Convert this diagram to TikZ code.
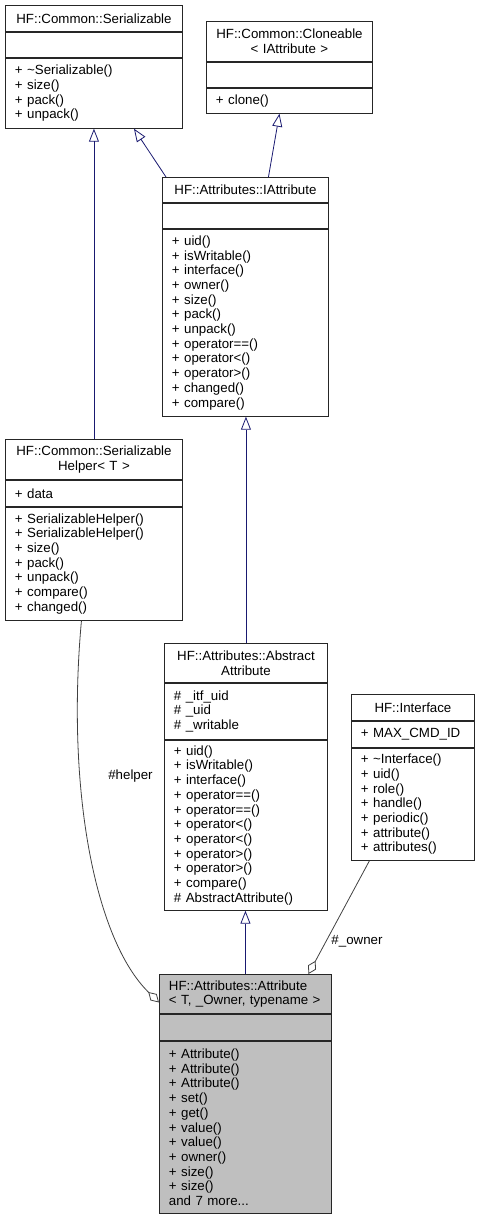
\documentclass[tikz,border=0pt]{standalone}
\usepackage{fontspec}
\setmainfont{Liberation Sans}
\usetikzlibrary{positioning,arrows.meta}

\definecolor{inhblue}{HTML}{191970}
\definecolor{aggrgray}{HTML}{404040}
\definecolor{focusgray}{HTML}{BFBFBF}

\tikzset{
  part/.style={draw=black!85, line width=0.9pt, fill=white, inner xsep=9.5pt, inner ysep=0pt,
    text width=#1, align=left, font=\fontsize{13.3}{14.7}\selectfont},
  head/.style={part=#1, align=center},
  inh/.style={draw=inhblue, line width=0.8pt, -{Triangle[open,length=13pt,width=10pt]}},
  aggr/.style={draw=aggrgray, line width=0.8pt, {Diamond[open,length=15pt,width=9pt]}-},
  lbl/.style={font=\fontsize{13.3}{14.7}\selectfont, inner sep=0pt},
}

\begin{document}
\begin{tikzpicture}[x=1pt,y=-1pt]

\useasboundingbox (0,0) rectangle (479,1217);

\node[head=158pt, minimum height=26pt, anchor=north west](serializable) at (5,5) {HF::Common::Serializable};
\node[part=158pt, minimum height=25pt, below=0pt of serializable](serializable attrs) {};
\node[part=158pt, minimum height=70pt, below=0pt of serializable attrs](serializable ops) {+ \textasciitilde Serializable()\\+ size()\\+ pack()\\+ unpack()};

\node[head=147pt, minimum height=40pt, anchor=north west](cloneable) at (206,21) {HF::Common::Cloneable\\< IAttribute >};
\node[part=147pt, minimum height=25pt, below=0pt of cloneable](cloneable attrs) {};
\node[part=147pt, minimum height=25pt, below=0pt of cloneable attrs](cloneable ops) {+ clone()};

\node[head=147pt, minimum height=25pt, anchor=north west](iattribute) at (162,177) {HF::Attributes::IAttribute};
\node[part=147pt, minimum height=25pt, below=0pt of iattribute](iattribute attrs) {};
\node[part=147pt, minimum height=187pt, below=0pt of iattribute attrs](iattribute ops) {+ uid()\\+ isWritable()\\+ interface()\\+ owner()\\+ size()\\+ pack()\\+ unpack()\\+ operator==()\\+ operator<()\\+ operator>()\\+ changed()\\+ compare()};

\node[head=158pt, minimum height=40pt, anchor=north west](helper) at (5,439) {HF::Common::Serializable\\Helper< T >};
\node[part=158pt, minimum height=26pt, below=0pt of helper](helper attrs) {+ data};
\node[part=158pt, minimum height=113pt, below=0pt of helper attrs](helper ops) {+ SerializableHelper()\\+ SerializableHelper()\\+ size()\\+ pack()\\+ unpack()\\+ compare()\\+ changed()};

\node[head=144pt, minimum height=39pt, anchor=north west](abstract) at (164,643) {HF::Attributes::Abstract\\Attribute};
\node[part=144pt, minimum height=56pt, below=0pt of abstract](abstract attrs) {\# \_itf\_uid\\\# \_uid\\\# \_writable};
\node[part=144pt, minimum height=170pt, below=0pt of abstract attrs](abstract ops) {+ uid()\\+ isWritable()\\+ interface()\\+ operator==()\\+ operator==()\\+ operator<()\\+ operator<()\\+ operator>()\\+ operator>()\\+ compare()\\\# AbstractAttribute()};

\node[head=104pt, minimum height=26pt, anchor=north west](interface) at (351,694) {HF::Interface};
\node[part=104pt, minimum height=26pt, below=0pt of interface](interface attrs) {+ MAX\_CMD\_ID};
\node[part=104pt, minimum height=112pt, below=0pt of interface attrs](interface ops) {+ \textasciitilde Interface()\\+ uid()\\+ role()\\+ handle()\\+ periodic()\\+ attribute()\\+ attributes()};

\node[part=153pt, fill=focusgray, minimum height=39pt, anchor=north west](attribute) at (159,974) {HF::Attributes::Attribute\\< T, \_Owner, typename >};
\node[part=153pt, fill=focusgray, minimum height=26pt, below=0pt of attribute](attribute attrs) {};
\node[part=153pt, fill=focusgray, minimum height=172pt, below=0pt of attribute attrs](attribute ops) {+ Attribute()\\+ Attribute()\\+ Attribute()\\+ set()\\+ get()\\+ value()\\+ value()\\+ owner()\\+ size()\\+ size()\\and 7 more...};

\node[lbl](helper label) at (130.5,776) {\#helper};
\node[lbl](owner label) at (357,941) {\#\_owner};

\draw[inh] (helper.north) to (serializable ops.south);
\draw[inh] ([xshift=4pt]iattribute.north west) to ([xshift=40pt]serializable ops.south);
\draw[inh] ([xshift=23pt]iattribute.north) to ([xshift=-10pt]cloneable ops.south);

\draw[inh] (abstract.north) to (abstract.north |- iattribute ops.south);

\draw[inh] (attribute.north) to (attribute.north |- abstract ops.south);

\draw[aggr] ([yshift=-8.5pt]attribute.west) .. controls (95,940) and (66,790) .. ([xshift=-12.5pt]helper ops.south);
\draw[aggr] ([xshift=63pt]attribute.north) to ([xshift=-43.5pt]interface ops.south);

\end{tikzpicture}
\end{document}
